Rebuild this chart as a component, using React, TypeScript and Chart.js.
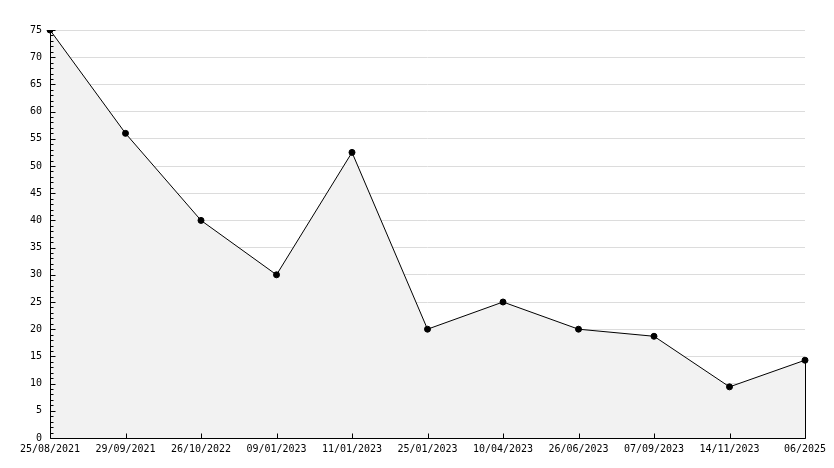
import React, { useEffect, useRef } from "react";
import { Chart, registerables } from "chart.js";

Chart.register(...registerables);

const categories = [
  "25/08/2021", "29/09/2021", "26/10/2022", "09/01/2023", "11/01/2023",
  "25/01/2023", "10/04/2023", "26/06/2023", "07/09/2023", "14/11/2023", "06/2025",
];
const values = [75, 56, 40, 30, 52.5, 20, 25, 20, 18.7, 9.4, 14.3];
const yMin = 0;
const yMax = 75;
const yStep = 5;

const FONT = "'DejaVu Sans Mono', monospace";

const ticksPlugin = {
  id: "innerTicks",
  afterDatasetsDraw(chart: any) {
    const { ctx, scales, chartArea } = chart;
    const xs = scales.x;
    const ys = scales.y;
    const left = Math.round(chartArea.left) + 0.5;
    const bottom = Math.round(chartArea.bottom) + 0.5;
    ctx.save();
    ctx.strokeStyle = "#000";
    ctx.lineWidth = 1;
    ctx.beginPath();
    // axis lines
    ctx.moveTo(left, Math.round(chartArea.top));
    ctx.lineTo(left, bottom);
    ctx.lineTo(Math.round(chartArea.right) + 0.5, bottom);
    // y minor/major ticks
    for (let v = yMin; v <= yMax; v += 1) {
      const y = Math.round(ys.getPixelForValue(v)) + 0.5;
      const len = v % yStep === 0 ? 5 : 3;
      ctx.moveTo(left, y);
      ctx.lineTo(left + len, y);
    }
    // x ticks
    for (let i = 1; i < categories.length; i++) {
      const x = Math.round(xs.getPixelForValue(i)) + 0.5;
      ctx.moveTo(x, bottom);
      ctx.lineTo(x, bottom - 5);
    }
    // right edge of area
    const meta = chart.getDatasetMeta(0);
    const last = meta.data[meta.data.length - 1];
    if (last) {
      const x = Math.round(last.x) + 0.5;
      ctx.moveTo(x, last.y);
      ctx.lineTo(x, bottom);
    }
    ctx.stroke();
    ctx.restore();
  },
};

export default function App() {
  const ref = useRef<HTMLCanvasElement>(null);
  useEffect(() => {
    document.body.style.margin = "0";
    const chart = new Chart(ref.current as HTMLCanvasElement, {
      type: "line",
      data: {
        labels: categories,
        datasets: [
          {
            data: values,
            borderColor: "#000",
            borderWidth: 1,
            backgroundColor: "#f2f2f2",
            fill: "origin",
            tension: 0,
            pointRadius: 3,
            pointBackgroundColor: "#000",
            pointBorderColor: "#000",
            pointStyle: "circle",
          },
        ],
      },
      options: {
        animation: false,
        responsive: false,
        maintainAspectRatio: false,
        layout: { padding: { top: 30, right: 29, left: 0, bottom: 0 } },
        plugins: { legend: { display: false }, tooltip: { enabled: false } },
        scales: {
          x: {
            type: "category",
            offset: false,
            grid: { display: false, drawTicks: false },
            border: { display: false },
            ticks: {
              color: "#000",
              font: { family: FONT, size: 10 },
              maxRotation: 0,
              autoSkip: false,
              padding: 5,
            },
            afterFit(scale: any) {
              scale.height = 30;
            },
          },
          y: {
            min: yMin,
            max: yMax,
            grid: { color: "#dcdcdc", drawTicks: false },
            border: { display: false },
            ticks: {
              stepSize: yStep,
              color: "#000",
              font: { family: FONT, size: 10 },
              padding: 8,
            },
            afterFit(scale: any) {
              scale.width = 50;
            },
          },
        },
      },
      plugins: [ticksPlugin],
    } as any);
    return () => chart.destroy();
  }, []);
  return (
    <div style={{ position: "absolute", left: 0, top: 0, width: 834, height: 468 }}>
      <canvas ref={ref} width={834} height={468} style={{ width: 834, height: 468 }} />
    </div>
  );
}
